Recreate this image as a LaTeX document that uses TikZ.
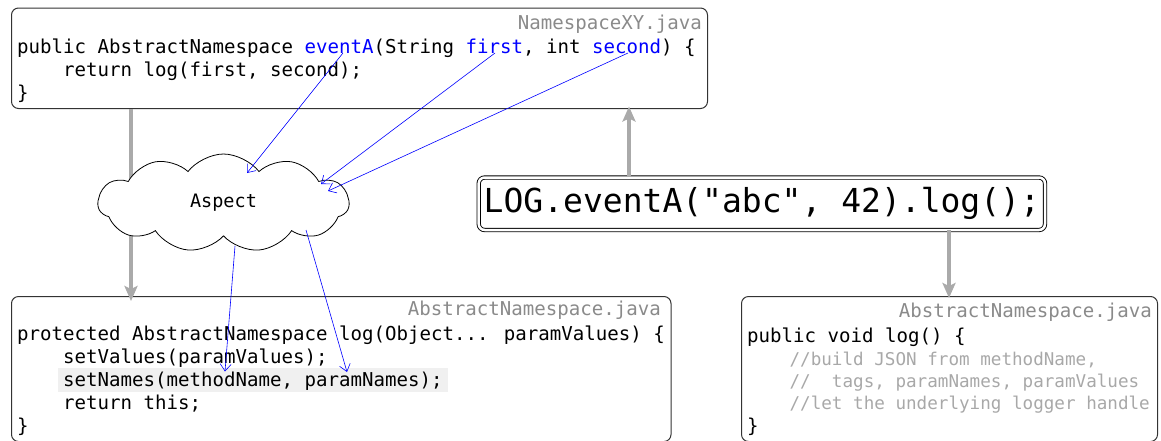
\documentclass[tikz,border=0pt]{standalone}
\usepackage{fontspec}
\newfontfamily\codefont{DejaVu Sans Mono}
\usetikzlibrary{shapes.symbols,arrows.meta}

\definecolor{boxline}{HTML}{333333}
\definecolor{flowgray}{HTML}{AAAAAA}
\definecolor{titlegray}{HTML}{8A8A8A}
\definecolor{commentgray}{HTML}{A8A8A8}
\definecolor{hilite}{HTML}{F0F0F0}
\definecolor{linkblue}{HTML}{0000FF}

\tikzset{
  codebox/.style={draw=boxline, line width=1pt, rounded corners=7pt, inner sep=0pt},
  codeline/.style={anchor=base west, inner sep=0pt,
    font=\codefont\fontsize{19.1}{23}\selectfont},
  titleline/.style={anchor=base east, inner sep=0pt, text=titlegray,
    font=\codefont\fontsize{19.1}{23}\selectfont},
  commentline/.style={anchor=base west, inner sep=0pt, text=commentgray,
    font=\codefont\fontsize{17.6}{21}\selectfont},
  callbox/.style={draw=black, double=white, double distance=2.5pt, line width=0.9pt,
    rounded corners=6pt, inner sep=0pt,
    font=\codefont\fontsize{33}{40}\selectfont},
  aspectcloud/.style={cloud, draw=black, fill=white, line width=0.8pt,
    cloud puffs=11, cloud puff arc=105, aspect=2.5, inner sep=0pt,
    font=\codefont\fontsize{18.5}{22}\selectfont},
  flow/.style={draw=flowgray, line width=4pt,
    -{Stealth[length=15pt,width=13pt,inset=3pt]}},
  link/.style={draw=linkblue, line width=0.6pt,
    -{Straight Barb[length=7pt,width=11pt]}},
}

\begin{document}
\begin{tikzpicture}[x=1pt,y=-1pt]
\useasboundingbox (0,0) rectangle (1161,440);
\clip (0,0) rectangle (1161,440);

% --- code boxes ---
\node[codebox, minimum width=696pt, minimum height=100.5pt] (nsxy) at (359.5,58.25) {};
\node[codebox, minimum width=659.5pt, minimum height=145pt] (absns) at (341.25,369) {};
\node[codebox, minimum width=416pt, minimum height=145pt] (logimpl) at (949.5,369) {};

% highlighted statement
\fill[hilite] (58,367.5) rectangle (448,392);

% NamespaceXY.java
\node[titleline] (nsxytitle) at (702,29) {NamespaceXY.java};
\node[codeline] (nsxyA) at (17,53) {public AbstractNamespace \textcolor{linkblue}{eventA}(String \textcolor{linkblue}{first}, int \textcolor{linkblue}{second}) \{};
\node[codeline] (nsxyB) at (17,76.3) {\hphantom{0000}return log(first, second);};
\node[codeline] (nsxyC) at (17,99.6) {\}};

% AbstractNamespace.java (log with parameters)
\node[titleline] (absnstitle) at (661,315) {AbstractNamespace.java};
\node[codeline] (absnsA) at (17,340.5) {protected AbstractNamespace log(Object... paramValues) \{};
\node[codeline] (absnsB) at (17,363.5) {\hphantom{0000}setValues(paramValues);};
\node[codeline] (absnsC) at (17,386.5) {\hphantom{0000}setNames(methodName, paramNames);};
\node[codeline] (absnsD) at (17,409.5) {\hphantom{0000}return this;};
\node[codeline] (absnsE) at (17,432.5) {\}};

% AbstractNamespace.java (terminal log)
\node[titleline] (logtitle) at (1152,317) {AbstractNamespace.java};
\node[codeline] (logA) at (747,342.5) {public void log() \{};
\node[commentline] (logB) at (747,365) {\hphantom{0000}//build JSON from methodName,};
\node[commentline] (logC) at (747,387.3) {\hphantom{0000}//\hphantom{00}tags, paramNames, paramValues};
\node[commentline] (logD) at (747,409.6) {\hphantom{0000}//let the underlying logger handle};
\node[codeline] (logE) at (747,432.5) {\}};

% call site
\node[callbox, minimum width=566.3pt, minimum height=52.5pt] (call) at (761.85,203.75) {LOG.eventA("abc", 42).log();};

% --- control flow ---
\coordinate (flowA) at (131,0);
\coordinate (flowB) at (629,0);
\coordinate (flowC) at (949,0);
\draw[flow] (nsxy.south -| flowA) -- ([yshift=-5pt]absns.north -| flowA);
\draw[flow] (call.north -| flowB) -- ([yshift=2.5pt]nsxy.south -| flowB);
\draw[flow] (call.south -| flowC) -- ([yshift=-2pt]logimpl.north -| flowC);

% aspect
\node[aspectcloud, minimum width=251pt, minimum height=98pt] (aspect) at (223.5,203) {Aspect};

% --- parameter links ---
\coordinate (evA) at (343,53);
\coordinate (fst) at (495,53);
\coordinate (snd) at (628,53);
\coordinate (aspIn1) at (247,173);
\coordinate (aspIn2) at (321,184);
\coordinate (aspIn3) at (328,191);
\coordinate (aspOut1) at (235,246);
\coordinate (aspOut2) at (306,230);
\coordinate (mName) at (225,371.5);
\coordinate (pNames) at (347,372);
\draw[link] (evA) -- (aspIn1);
\draw[link] (fst) -- (aspIn2);
\draw[link] (snd) -- (aspIn3);
\draw[link] (aspOut1) -- (mName);
\draw[link] (aspOut2) -- (pNames);
\end{tikzpicture}
\end{document}
